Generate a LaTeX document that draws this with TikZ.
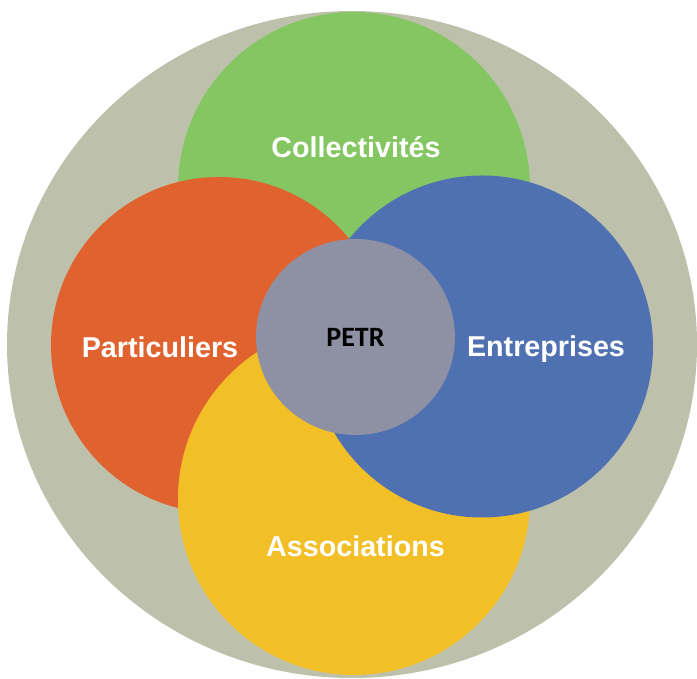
\documentclass[tikz,border=0pt]{standalone}
\usepackage{fontspec}
\setmainfont{Liberation Sans}
\newfontfamily\petrfont{Carlito}
\usepackage{tikz}
\usetikzlibrary{positioning,shapes}

\definecolor{Fond}{RGB}{189,193,171}
\definecolor{Vert}{RGB}{132,198,98}
\definecolor{Orange}{RGB}{224,98,46}
\definecolor{Jaune}{RGB}{243,191,38}
\definecolor{Bleu}{RGB}{79,113,178}
\definecolor{Gris}{RGB}{141,145,163}

\begin{document}
\begin{tikzpicture}[x=1pt,y=1pt]
\tikzstyle{every node}=[inner sep=0pt,outer sep=0pt,draw=none];
\tikzstyle{rond}=[circle];
\tikzstyle{etiquette}=[anchor=base,text=white,font=\bfseries\fontsize{28.7}{32}\selectfont];
\useasboundingbox (0,0) rectangle (697,679);
\node[ellipse,fill=Fond,minimum width=690pt,minimum height=667pt] (fond) at (352,334.5) {};
\node[rond,fill=Vert,minimum size=352pt] (coll) at (354,491) {};
\node[rond,fill=Orange,minimum size=336pt] (part) at (219,334) {};
\node[rond,fill=Jaune,minimum size=352pt] (asso) at (354,180) {};
\node[rond,fill=Bleu,minimum size=342pt] (entr) at (482,332.5) {};
\node[ellipse,fill=Gris,minimum width=199pt,minimum height=196pt] (petr) at (355.5,342) {};
% textes
\node[etiquette] (tcoll) at (356,521) {Collectivités};
\node[etiquette] (tpart) at (160,321) {Particuliers};
\node[etiquette] (tentr) at (546,322) {Entreprises};
\node[etiquette] (tasso) at (355.5,122) {Associations};
\node[anchor=base,font=\petrfont\bfseries\fontsize{28}{30}\selectfont] (tpetr) at (355.5,332) {PETR};
\end{tikzpicture}
\end{document}
